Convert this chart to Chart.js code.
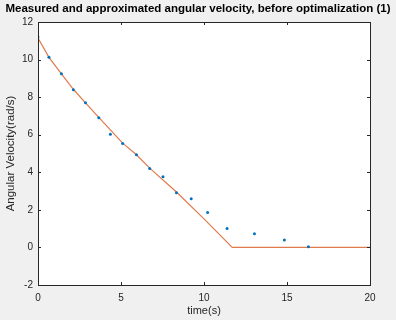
<!DOCTYPE html>
<html>
<head>
<meta charset="utf-8">
<script src="https://cdn.jsdelivr.net/npm/chart.js@4"></script>
<style>
  html, body { margin: 0; padding: 0; background: #f0f0f0; }
  #wrap { width: 396px; height: 320px; position: relative; }
</style>
</head>
<body>
<div id="wrap"><canvas id="velChart"></canvas></div>
<script>
// measured samples (blue dots)
const measuredTime = [0, 0.66, 1.41, 2.13, 2.86, 3.66, 4.36, 5.10, 5.93, 6.73, 7.53, 8.34, 9.23, 10.22, 11.39, 13.04, 14.84, 16.29];
const measuredVel = [11.2, 10.12, 9.24, 8.40, 7.70, 6.90, 6.03, 5.53, 4.93, 4.20, 3.76, 2.91, 2.59, 1.86, 1.01, 0.73, 0.39, 0.04];

// approximation (orange line)
const approxTime = [0, 0.66, 1.41, 2.13, 2.86, 3.66, 5.10, 5.93, 6.73, 8.34, 10, 11.7, 20];
const approxVel = [11.15, 10.12, 9.24, 8.42, 7.70, 6.92, 5.55, 4.93, 4.22, 2.95, 1.52, 0, 0];

const xTicks = [0, 5, 10, 15, 20];
const yTicks = [-2, 0, 2, 4, 6, 8, 10, 12];

const axisColor = '#262626';
const fontFamily = '"Liberation Sans", Arial, sans-serif';

// grey figure background, white axes, box and inward ticks like matlab
const matlabFrame = {
    id: 'matlabFrame',
    beforeDraw(chart) {
        const { ctx, chartArea: a } = chart;
        ctx.save();
        ctx.fillStyle = '#f0f0f0';
        ctx.fillRect(0, 0, chart.width, chart.height);
        ctx.fillStyle = '#ffffff';
        ctx.fillRect(a.left, a.top, a.right - a.left, a.bottom - a.top);
        ctx.restore();
    },
    afterDraw(chart) {
        const { ctx, chartArea: a, scales } = chart;
        const len = 3;
        ctx.save();
        ctx.strokeStyle = axisColor;
        ctx.lineWidth = 1;
        ctx.beginPath();
        xTicks.forEach(v => {
            const x = Math.round(scales.x.getPixelForValue(v)) + 0.5;
            ctx.moveTo(x, a.bottom); ctx.lineTo(x, a.bottom - len);
            ctx.moveTo(x, a.top); ctx.lineTo(x, a.top + len);
        });
        yTicks.forEach(v => {
            const y = Math.round(scales.y.getPixelForValue(v)) + 0.5;
            ctx.moveTo(a.left, y); ctx.lineTo(a.left + len, y);
            ctx.moveTo(a.right, y); ctx.lineTo(a.right - len, y);
        });
        ctx.stroke();
        ctx.strokeRect(Math.round(a.left) + 0.5, Math.round(a.top) + 0.5,
            Math.round(a.right - a.left), Math.round(a.bottom - a.top));
        ctx.restore();
    }
};

const ctx = document.getElementById('velChart').getContext('2d');
new Chart(ctx, {
    type: 'scatter',
    data: {
        datasets: [
            {
                label: 'measured',
                data: measuredTime.map((t, i) => ({ x: t, y: measuredVel[i] })),
                backgroundColor: '#0072bd',
                borderColor: '#0072bd',
                pointRadius: 1.5,
                pointBorderWidth: 0
            },
            {
                label: 'approximated',
                type: 'line',
                data: approxTime.map((t, i) => ({ x: t, y: approxVel[i] })),
                borderColor: '#de7a4c',
                borderWidth: 1.2,
                pointRadius: 0,
                tension: 0,
                fill: false
            }
        ]
    },
    options: {
        responsive: true,
        maintainAspectRatio: false,
        animation: false,
        layout: { padding: 0 },
        plugins: {
            legend: { display: false },
            tooltip: { enabled: false },
            title: {
                display: true,
                text: 'Measured and approximated angular velocity, before optimalization (1)',
                color: '#000000',
                font: { family: fontFamily, size: 11.5, weight: 'bold' },
                padding: { top: 2, bottom: 6.2 }
            }
        },
        scales: {
            x: {
                type: 'linear',
                min: 0,
                max: 20,
                afterBuildTicks: s => { s.ticks = xTicks.map(v => ({ value: v })); },
                afterFit: s => { s.height = 35; },
                grid: { display: false, drawTicks: false },
                border: { display: false },
                ticks: { color: axisColor, padding: 7, maxRotation: 0, font: { family: fontFamily, size: 10 } },
                title: {
                    display: true,
                    text: 'time(s)',
                    color: axisColor,
                    font: { family: fontFamily, size: 11 },
                    padding: { top: 0, bottom: 2 }
                }
            },
            y: {
                type: 'linear',
                min: -2,
                max: 12,
                afterBuildTicks: s => { s.ticks = yTicks.map(v => ({ value: v })); },
                afterFit: s => { s.width = 38; },
                grid: { display: false, drawTicks: false },
                border: { display: false },
                ticks: { color: axisColor, padding: 5, font: { family: fontFamily, size: 10 } },
                title: {
                    display: true,
                    text: 'Angular Velocity(rad/s)',
                    color: axisColor,
                    font: { family: fontFamily, size: 11.5 },
                    padding: { top: 4, bottom: 0 }
                }
            },
            // empty right axis, only reserves the grey margin on the right
            yRight: {
                type: 'linear',
                position: 'right',
                min: -2,
                max: 12,
                afterFit: s => { s.width = 26; },
                grid: { display: false, drawTicks: false },
                border: { display: false },
                ticks: { display: false }
            }
        }
    },
    plugins: [matlabFrame]
});
</script>
</body>
</html>
